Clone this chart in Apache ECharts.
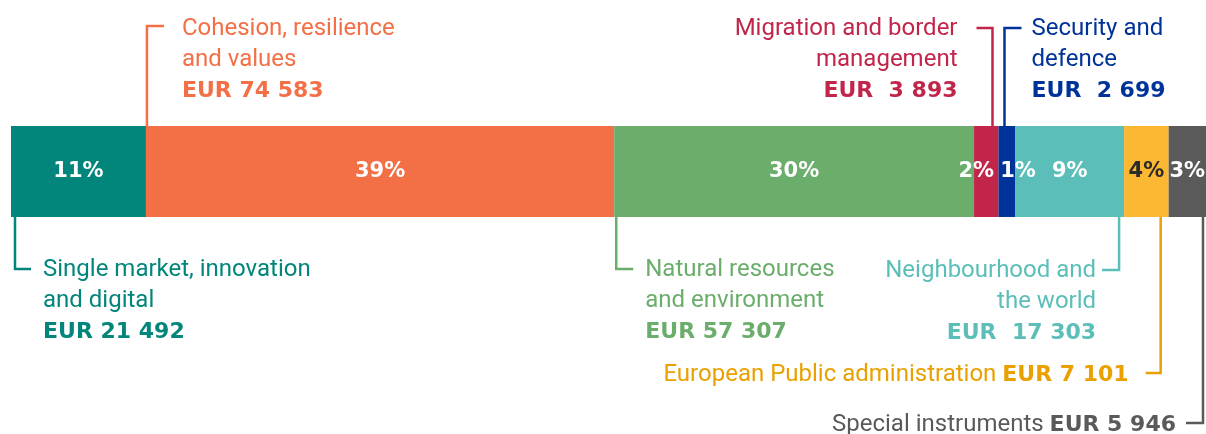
<!DOCTYPE html>
<html>
<head>
<meta charset="utf-8">
<script src="https://cdn.jsdelivr.net/npm/echarts@6/dist/echarts.min.js"></script>
<style>
html,body{margin:0;padding:0;background:#fff;}
#chart{width:1206px;height:434px;}
</style>
</head>
<body>
<div id="chart"></div>
<script>
// ---- Data ----
const categories = ['Single market, innovation and digital', 'Cohesion, resilience and values', 'Natural resources and environment', 'Migration and border management', 'Security and defence', 'Neighbourhood and the world', 'European Public administration', 'Special instruments'];
const values = [21492, 74583, 57307, 3893, 2699, 17303, 7101, 5946];
const nameLines = [
  ['Single market, innovation', 'and digital'],
  ['Cohesion, resilience', 'and values'],
  ['Natural resources', 'and environment'],
  ['Migration and border', 'management'],
  ['Security and', 'defence'],
  ['Neighbourhood and', 'the world'],
  ['European Public administration'],
  ['Special instruments']
];
const amountLabels = ['EUR 21 492', 'EUR 74 583', 'EUR 57 307', 'EUR  3 893', 'EUR  2 699', 'EUR  17 303', 'EUR 7 101', 'EUR 5 946'];

// ---- Styles ----
const barColors = ['#02857A', '#F36F46', '#6BAE6C', '#C1264A', '#003399', '#5BBEB8', '#FDB833', '#5A5A5A'];
const textColors = ['#02857A', '#F36F46', '#6BAE6C', '#C1264A', '#003399', '#5BBEB8', '#E9A000', '#5A5A5A'];
const pctColors = ['#fff', '#fff', '#fff', '#fff', '#fff', '#fff', '#2b2b2b', '#fff'];
const pctOffsets = [[0,0],[0,0],[0,0],[-10,0],[11,0],[0,0],[0,0],[0,0]];
const FONT = 'Roboto';
const BOLD_FONT = 'DejaVu Sans';

const total = values.reduce((a, b) => a + b, 0);
const GRID_TOP = 126, GRID_H = 91;

const chart = echarts.init(document.getElementById('chart'));
chart.setOption({
  animation: false,
  grid: { left: 11, right: 0, top: GRID_TOP, height: GRID_H },
  xAxis: { type: 'value', min: 0, max: total, show: false },
  yAxis: { type: 'category', data: ['MFF'], show: false },
  series: categories.map((c, i) => ({
    name: c,
    type: 'bar',
    stack: 'all',
    barWidth: '100%',
    data: [values[i]],
    itemStyle: { color: barColors[i] },
    label: {
      show: true,
      position: 'inside',
      offset: pctOffsets[i],
      formatter: () => Math.round(values[i] / total * 100) + '%',
      color: pctColors[i],
      fontFamily: BOLD_FONT,
      fontWeight: 'bold',
      fontSize: 21
    }
  }))
});

// ---- Annotations (callout brackets) positioned via the axis scale ----
const notes = [
  { anchor: 'start', dx: 4,  side: 'bottom', hookY: 269, hook: 16,  tx: 28,  align: 'left',  ys: [270, 301, 332] },
  { anchor: 'start', dx: 1,  side: 'top',    hookY: 26,  hook: 17,  tx: 35,  align: 'left',  ys: [29, 60, 91] },
  { anchor: 'start', dx: 2,  side: 'bottom', hookY: 269, hook: 17,  tx: 29,  align: 'left',  ys: [270, 301, 332] },
  { anchor: 'end',   dx: -6, side: 'top',    hookY: 28,  hook: -16, tx: -35, align: 'right', ys: [29, 60, 91] },
  { anchor: 'start', dx: 6,  side: 'top',    hookY: 28,  hook: 17,  tx: 27,  align: 'left',  ys: [29, 60, 91] },
  { anchor: 'end',   dx: -5, side: 'bottom', hookY: 270, hook: -17, tx: -23, align: 'right', ys: [271, 302, 333] },
  { anchor: 'end',   dx: -8, side: 'bottom', hookY: 373, hook: -15, tx: -32, align: 'right', ys: [375], inline: true },
  { anchor: 'end',   dx: -3, side: 'bottom', hookY: 423, hook: -17, tx: -27, align: 'right', ys: [425], inline: true }
];

const graphics = [];
let cum = 0;
values.forEach((v, i) => {
  const start = chart.convertToPixel({ xAxisIndex: 0 }, cum);
  const end = chart.convertToPixel({ xAxisIndex: 0 }, cum + v);
  cum += v;
  const n = notes[i];
  const x = (n.anchor === 'start' ? start : end) + n.dx;
  const edgeY = n.side === 'top' ? GRID_TOP : GRID_TOP + GRID_H;
  graphics.push({
    type: 'polyline',
    shape: { points: [[x, edgeY], [x, n.hookY], [x + n.hook, n.hookY]] },
    style: { stroke: textColors[i], lineWidth: 2.5, fill: null },
    z: 10
  });
  const tx = x + n.tx;
  if (n.inline) {
    graphics.push({
      type: 'text', x: tx, y: n.ys[0], z: 10,
      style: {
        text: '{a|' + nameLines[i][0] + ' }{b|' + amountLabels[i] + '}',
        align: n.align, verticalAlign: 'middle',
        fill: textColors[i],
        rich: {
          a: { fontFamily: FONT, fontSize: 24, fill: textColors[i], color: textColors[i] },
          b: { fontFamily: BOLD_FONT, fontSize: 22, fontWeight: 'bold', fill: textColors[i], color: textColors[i] }
        }
      }
    });
  } else {
    const lines = nameLines[i].concat([amountLabels[i]]);
    lines.forEach((t, k) => {
      const isAmt = k === lines.length - 1;
      graphics.push({
        type: 'text', x: tx, y: n.ys[k], z: 10,
        style: {
          text: t, fill: textColors[i],
          fontFamily: isAmt ? BOLD_FONT : FONT, fontSize: isAmt ? 22 : 24,
          fontWeight: isAmt ? 'bold' : 'normal',
          align: n.align, verticalAlign: 'middle'
        }
      });
    });
  }
});
chart.setOption({ graphic: graphics });
</script>
</body>
</html>
